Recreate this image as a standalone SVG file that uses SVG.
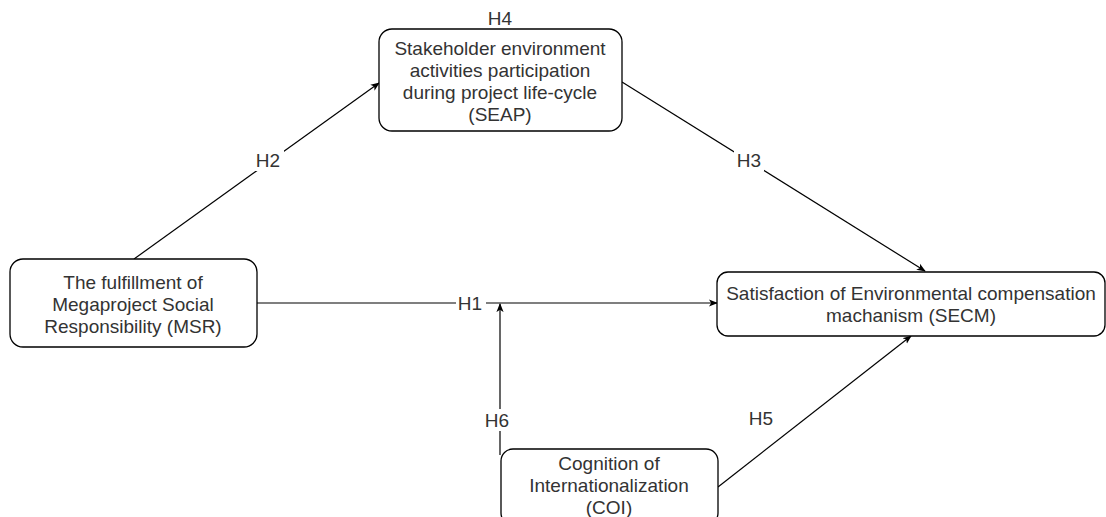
<svg xmlns="http://www.w3.org/2000/svg" width="1106" height="517" viewBox="0 0 1106 517">
<style>
.box{fill:#fff;stroke:#000;stroke-width:1.3}
.t{font-family:"Liberation Sans",Arial,sans-serif;font-size:19px;fill:#333;text-anchor:middle}
.e{fill:none;stroke:#000;stroke-width:1.2}
.lb{fill:#fff}
</style>
<defs>
<marker id="ah" viewBox="0 0 10 10" refX="9" refY="5" markerWidth="9" markerHeight="9" markerUnits="userSpaceOnUse" orient="auto">
<path d="M0,1 L10,5 L0,9 L2.5,5 Z" fill="#000"/>
</marker>
</defs>
<rect width="1106" height="517" fill="#fff"/>
<g id="connectors">
<line class="e" x1="257" y1="303" x2="717" y2="303" marker-end="url(#ah)"/>
<line class="e" x1="134" y1="259" x2="379" y2="83" marker-end="url(#ah)"/>
<line class="e" x1="622" y1="82" x2="925" y2="271" marker-end="url(#ah)"/>
<line class="e" x1="718" y1="487" x2="911" y2="336" marker-end="url(#ah)"/>
<line class="e" x1="500" y1="455" x2="500" y2="304" marker-end="url(#ah)"/>
<rect class="lb" x="456" y="292" width="30" height="22"/>
<text class="t" x="470" y="310">H1</text>
<rect class="lb" x="254" y="149" width="30" height="22"/>
<text class="t" x="268" y="167">H2</text>
<rect class="lb" x="734" y="149" width="30" height="22"/>
<text class="t" x="749" y="167">H3</text>
<text class="t" x="500" y="25">H4</text>
<rect class="lb" x="746" y="407" width="30" height="22"/>
<text class="t" x="761" y="425">H5</text>
<rect class="lb" x="483" y="409" width="30" height="22"/>
<text class="t" x="497" y="427">H6</text>
</g>
<g id="node-seap">
<rect class="box" x="379" y="29" width="243" height="102" rx="13"/>
<text class="t" x="500" y="55">Stakeholder environment</text>
<text class="t" x="500" y="77">activities participation</text>
<text class="t" x="500" y="99">during project life-cycle</text>
<text class="t" x="500" y="121">(SEAP)</text>
</g>
<g id="node-msr">
<rect class="box" x="10" y="259" width="247" height="88" rx="13"/>
<text class="t" x="133" y="289">The fulfillment of</text>
<text class="t" x="133" y="311">Megaproject Social</text>
<text class="t" x="133" y="333">Responsibility (MSR)</text>
</g>
<g id="node-secm">
<rect class="box" x="717" y="272" width="388" height="64" rx="11"/>
<text class="t" x="911" y="300">Satisfaction of Environmental compensation</text>
<text class="t" x="911" y="322">machanism (SECM)</text>
</g>
<g id="node-coi">
<rect class="box" x="501" y="449" width="217" height="76" rx="12"/>
<text class="t" x="609" y="470">Cognition of</text>
<text class="t" x="609" y="492">Internationalization</text>
<text class="t" x="609" y="514">(COI)</text>
</g>
</svg>
